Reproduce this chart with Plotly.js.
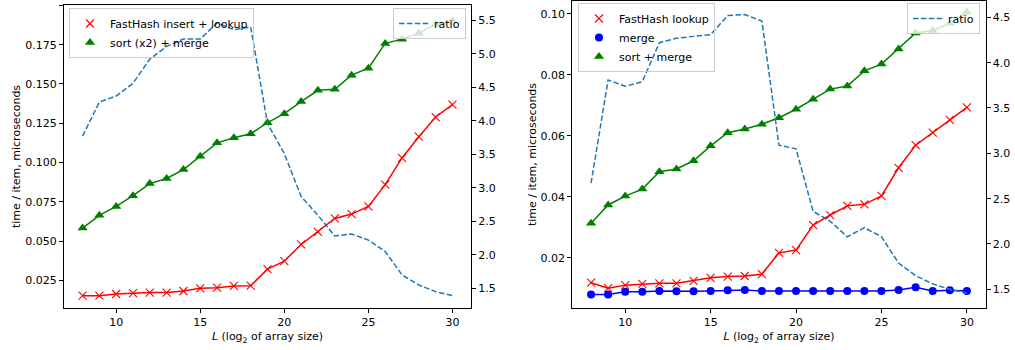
<!DOCTYPE html>
<html>
<head>
<meta charset="utf-8">
<script src="https://cdn.plot.ly/plotly-3.0.1.min.js"></script>
<style>html,body{margin:0;padding:0;background:#fff;}#chart{width:1015px;height:350px;}</style>
</head>
<body>
<div id="chart"></div>
<script>
// L = log2 of array size
const L = [8,9,10,11,12,13,14,15,16,17,18,19,20,21,22,23,24,25,26,27,28,29,30];

// Left panel (time / item, microseconds)
const leftHashInsertLookup = [0.0154,0.0154,0.0165,0.0170,0.0174,0.0174,0.0184,0.0201,0.0205,0.0216,0.0218,0.0323,0.0374,0.0480,0.0560,0.0645,0.0673,0.0722,0.0860,0.1030,0.1165,0.1290,0.1369];
const leftSortX2Merge     = [0.0584,0.0665,0.0722,0.0790,0.0867,0.0899,0.0956,0.1040,0.1126,0.1158,0.1184,0.1254,0.1311,0.1388,0.1460,0.1466,0.1556,0.1600,0.1758,0.1785,0.1823,0.1880,0.1900];
const leftRatio           = [3.77,4.28,4.37,4.56,4.92,5.11,5.22,5.22,5.46,5.36,5.40,3.96,3.51,2.87,2.59,2.28,2.31,2.22,2.05,1.70,1.55,1.45,1.39];

// Right panel
const rightHashLookup = [0.0118,0.0100,0.0110,0.0114,0.0116,0.0116,0.0124,0.0134,0.0138,0.0140,0.0146,0.0216,0.0225,0.0307,0.0340,0.0370,0.0375,0.0403,0.0495,0.0569,0.0610,0.0652,0.0693];
const rightMerge      = [0.0079,0.0079,0.0088,0.0088,0.0091,0.0090,0.0090,0.0091,0.0093,0.0094,0.0091,0.0091,0.0091,0.0091,0.0091,0.0091,0.0091,0.0091,0.0094,0.0103,0.0091,0.0093,0.0091];
const rightSortMerge  = [0.0313,0.0373,0.0402,0.0425,0.0482,0.0491,0.0518,0.0567,0.0610,0.0622,0.0638,0.0659,0.0687,0.0720,0.0753,0.0763,0.0813,0.0835,0.0885,0.0937,0.0945,0.0969,0.1005];
const rightRatio      = [2.67,3.81,3.74,3.79,4.22,4.27,4.29,4.31,4.52,4.53,4.46,3.09,3.05,2.36,2.25,2.08,2.18,2.08,1.79,1.65,1.56,1.50,1.46];

// Tick labels
const xTicks = [10,15,20,25,30];

// Legend names
const nameHashIL = 'FastHash insert + lookup';
const nameSortX2 = 'sort (x2) + merge';
const nameHashL = 'FastHash lookup';
const nameMerge = 'merge';
const nameSortM = 'sort + merge';
const nameRatio = 'ratio';

const RED = '#ff0000', GREEN = '#008000', BLUE = '#0000ff', TAB = '#1f77b4';
const FONT = 'DejaVu Sans, Liberation Sans, sans-serif';

function series(x, y, color, symbol, size, name, xa, ya, legend, xmark) {
  const line = {x, y, xaxis: xa, yaxis: ya, mode: 'lines', line: {color, width: 1.5}, showlegend: false, hoverinfo: 'skip'};
  const mk = {x, y, xaxis: xa, yaxis: ya, mode: 'markers', name, legend,
    marker: xmark ? {symbol, size, color, line: {color, width: 1.1}} : {symbol, size, color, line: {width: 0}}};
  return [line, mk];
}
function ratio(x, y, xa, ya, legend) {
  return {x, y, xaxis: xa, yaxis: ya, mode: 'lines', name: nameRatio, legend,
    line: {color: TAB, width: 1.5, dash: '5.5px,2.4px'}};
}

const data = [
  ...series(L, leftHashInsertLookup, RED, 'x-thin', 8, nameHashIL, 'x', 'y', 'legend', true),
  ...series(L, leftSortX2Merge, GREEN, 'triangle-up', 9, nameSortX2, 'x', 'y', 'legend', false),
  ratio(L, leftRatio, 'x', 'y2', 'legend2'),
  ...series(L, rightHashLookup, RED, 'x-thin', 8, nameHashL, 'x2', 'y3', 'legend3', true),
  ...series(L, rightMerge, BLUE, 'circle', 8, nameMerge, 'x2', 'y3', 'legend3', false),
  ...series(L, rightSortMerge, GREEN, 'triangle-up', 9, nameSortM, 'x2', 'y3', 'legend3', false),
  ratio(L, rightRatio, 'x2', 'y4', 'legend4')
];

const axBase = {showline: true, linecolor: '#000', linewidth: 1, ticks: 'outside', ticklen: 4, tickwidth: 1,
  tickcolor: '#000', showgrid: false, zeroline: false, tickfont: {family: FONT, size: 11, color: '#000'}, automargin: false};
const xTitle = {text: '<i>L</i> (log<sub>2</sub> of array size)', font: {family: FONT, size: 11, color: '#000'}, standoff: 4};
const yTitle = {text: 'time / item, microseconds', font: {family: FONT, size: 11, color: '#000'}};

const legBase = {bgcolor: 'rgba(255,255,255,0.8)', bordercolor: '#cccccc', borderwidth: 1,
  font: {family: FONT, size: 11, color: '#000'}, xanchor: 'left', yanchor: 'top', tracegroupgap: 0, itemwidth: 30};

const layout = {
  width: 1015, height: 350,
  margin: {l: 0, r: 0, t: 0, b: 0},
  paper_bgcolor: '#fff', plot_bgcolor: '#fff',
  font: {family: FONT, size: 11, color: '#000'},
  xaxis: Object.assign({}, axBase, {domain: [0.0631, 0.4640], anchor: 'y', range: [6.9, 31.1], tickvals: xTicks, mirror: true, title: xTitle}),
  yaxis: Object.assign({}, axBase, {domain: [0.12, 0.9857], anchor: 'x', range: [0.0076, 0.2002], tick0: 0, dtick: 0.025, tickformat: '.3f', title: yTitle}),
  yaxis2: Object.assign({}, axBase, {domain: [0.12, 0.9857], anchor: 'x', overlaying: 'y', side: 'right', range: [1.206, 5.728], tick0: 0, dtick: 0.5, tickformat: '.1f'}),
  xaxis2: Object.assign({}, axBase, {domain: [0.5638, 0.9711], anchor: 'y3', range: [6.9, 31.1], tickvals: xTicks, mirror: true, title: xTitle}),
  yaxis3: Object.assign({}, axBase, {domain: [0.12, 0.9971], anchor: 'x2', range: [0.0035, 0.1042], tick0: 0, dtick: 0.02, tickformat: '.2f', title: yTitle}),
  yaxis4: Object.assign({}, axBase, {domain: [0.12, 0.9971], anchor: 'x2', overlaying: 'y3', side: 'right', range: [1.294, 4.68], tick0: 0, dtick: 0.5, tickformat: '.1f'}),
  legend: Object.assign({}, legBase, {x: 69/1015, y: 1 - 8/350, bgcolor: 'rgba(255,255,255,0)'}),
  legend2: Object.assign({}, legBase, {x: 466/1015, y: 1 - 8/350, xanchor: 'right'}),
  legend3: Object.assign({}, legBase, {x: 578/1015, y: 1 - 3/350, bgcolor: 'rgba(255,255,255,0)'}),
  legend4: Object.assign({}, legBase, {x: 980/1015, y: 1 - 3/350, xanchor: 'right'}),
  showlegend: true
};

Plotly.newPlot('chart', data, layout, {displayModeBar: false, staticPlot: true});
</script>
</body>
</html>
